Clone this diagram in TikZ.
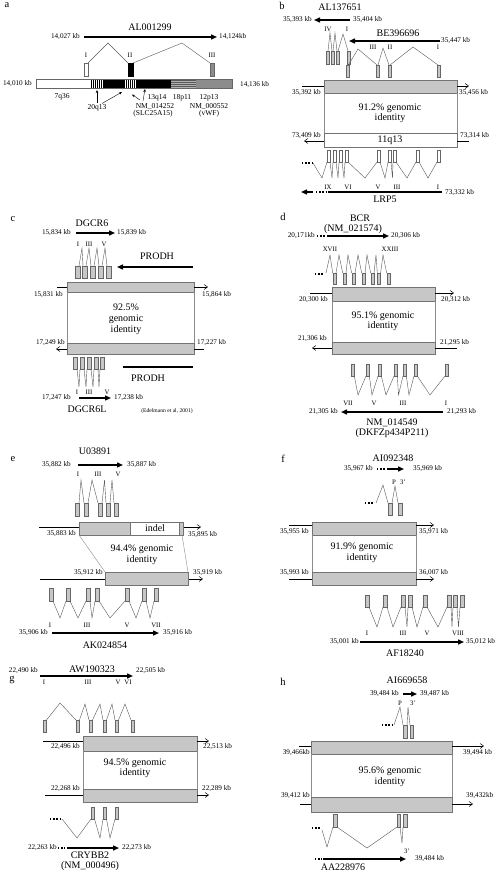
\documentclass[tikz,border=0pt]{standalone}
\usepackage{fontspec}
\setmainfont{Liberation Serif}
\usetikzlibrary{arrows.meta}
\begin{document}
\begin{tikzpicture}[x=1pt,y=-1pt,
 kb/.style={font=\fontsize{7.2}{7}\selectfont, inner sep=0pt},
 ch/.style={font=\fontsize{7.5}{7}\selectfont, inner sep=0pt},
 gn/.style={font=\fontsize{10}{10}\selectfont, inner sep=0pt},
 rn/.style={font=\fontsize{6.8}{6}\selectfont, inner sep=0pt},
 pl/.style={font=\fontsize{10.5}{11}\selectfont, inner sep=0pt},
 sm/.style={font=\fontsize{5.6}{6}\selectfont, inner sep=0pt},
 ex/.style={draw=black!60, fill=black!22, line width=0.4pt},
 wex/.style={draw=black!60, fill=white, line width=0.4pt},
 big/.style={draw=black!55, fill=black!22, line width=0.5pt},
 intr/.style={draw=black!65, line width=0.4pt},
 ident/.style={draw=black!45, line width=0.4pt},
 tarr/.style={line width=1.4pt, -{Triangle[length=6pt,width=5pt]}},
 tline/.style={line width=1.4pt},
 narr/.style={line width=0.5pt, -{Straight Barb[length=3.5pt,width=5pt]}},
 nline/.style={line width=0.5pt},
 dts/.style={line width=1.4pt, dash pattern=on 1.4pt off 1.8pt},
 pa/.style={line width=0.4pt, -{Stealth[length=3pt,width=2.5pt]}},
]
\useasboundingbox[fill=white] (0,0) rectangle (499,872);

%%%%%%%%%%%%%%%% panel a
\node[pl] (la) at (7,5) {a};
\node[gn] (ga) at (150,27) {AL001299};
\node[kb,anchor=east] (a1) at (80,37) {14,027 kb};
\node[kb,anchor=west] (a2) at (219,37) {14,124kb};
\draw[tarr] (84,37) -- (217,37);
\node[rn] (aI) at (86,55) {I};
\node[rn] (aII) at (130,55) {II};
\node[rn] (aIII) at (212,55) {III};
\draw[wex] (84,63) rectangle (88,76);
\draw[fill=black] (128,63) rectangle (133,76);
\draw[draw=black!60, fill=black!45] (210,63) rectangle (214,76);
\draw[intr] (88,63) -- (108,43) -- (128,63);
\draw[intr] (133,63) -- (182,43) -- (210,63);
% chromosome bar
\fill[white] (36,79) rectangle (90,88);
\fill[white] (90,79) rectangle (103,88);
\foreach \x in {91,93,...,102} \draw[line width=0.9pt] (\x,79) -- (\x,88);
\fill[black] (103,79) rectangle (125,88);
\fill[white] (125,79) rectangle (136,88);
\foreach \x in {126,128,...,135} \draw[line width=0.9pt] (\x,79) -- (\x,88);
\fill[black] (136,79) rectangle (171,88);
\fill[black!30] (171,79) rectangle (196,88);
\foreach \y in {80.5,82.5,...,87.5} \draw[black!65, line width=0.5pt] (171,\y) -- (196,\y);
\fill[black!45] (196,79) rectangle (232,88);
\draw[black!60, line width=0.5pt] (36,79) rectangle (232,88);
\node[kb,anchor=east] (a3) at (32,84) {14,010 kb};
\node[kb,anchor=west] (a4) at (240,85) {14,136 kb};
\node[ch] (c7) at (62,97) {7q36};
\node[ch] (c20) at (97,107.5) {20q13};
\node[ch] (c13) at (157,97.5) {13q14};
\node[ch] (nm1) at (155,106) {NM\_014252};
\node[ch] (slc) at (153,114) {(SLC25A15)};
\node[ch] (c18) at (182,97.5) {18p11};
\node[ch] (c12) at (209,97.5) {12p13};
\node[ch] (nm2) at (209,106) {NM\_000552};
\node[ch] (vwf) at (209,114) {(vWF)};
\draw[pa] (97,103) -- (97,90);
\draw[pa] (102,103.5) -- (122,92);
\draw[pa] (140,100) -- (132,94.5);
\draw[pa] (143,101) -- (145,89);

%%%%%%%%%%%%%%%% panel b
\node[pl] (lb) at (282,6) {b};
\node[gn] (gb1) at (340,7) {AL137651};
\draw[tarr] (350,20) -- (314,20);
\node[kb,anchor=east] (b1) at (312,20) {35,393 kb};
\node[kb,anchor=west] (b2) at (353,20) {35,404 kb};
\node[rn] (bIV) at (328,29) {IV};
\node[rn] (bI) at (347,29) {I};
\foreach \x in {326,331,336,347} \draw[ex] (\x,51) rectangle ++(3,13);
\draw[intr] (328,51) -- (330,33) -- (332,51);
\draw[intr] (333,51) -- (335,33) -- (337,51);
\draw[intr] (338,51) -- (343,34) -- (348,51);
\node[gn] (gb2) at (398,33) {BE396696};
\draw[tarr] (440,41) -- (349,41);
\node[kb,anchor=west] (b3) at (441,41) {35,447 kb};
\node[rn] (bIII2) at (373,47) {III};
\node[rn] (bII2) at (390,47) {II};
\node[rn] (bI2) at (438,47) {I};
\foreach \x in {346,376,388,437} \draw[ex] (\x,65) rectangle ++(3,12);
\draw[intr] (349,64) -- (358,49) -- (377,65);
\draw[intr] (378,65) -- (383,48) -- (389,65);
\draw[intr] (390,65) -- (413,47) -- (438,65);
\draw[big] (324,80) rectangle (457,93);
\draw[nline] (302,86) -- (324,86);
\draw[narr] (457,86) -- (469,86);
\node[kb,anchor=east] (b4) at (321,93) {35,392 kb};
\node[kb,anchor=west] (b5) at (459,93) {35,456 kb};
\draw[ident] (324,93) -- (324,133);
\draw[ident] (457,93) -- (457,133);
\node[gn] (bp1) at (390,108) {91.2\% genomic};
\node[gn] (bp2) at (390,118.5) {identity};
\draw[draw=black!55, fill=white, line width=0.5pt] (324,133) rectangle (457,147);
\node[gn] (b11) at (390,140) {11q13};
\draw[narr] (324,141) -- (304,141);
\draw[nline] (457,141) -- (469,141);
\node[kb,anchor=east] (b6) at (321,135.5) {73,409 kb};
\node[kb,anchor=west] (b7) at (460,135.5) {73,314 kb};
\foreach \x in {327,333,339,345,377,388,393,416,437} \draw[wex] (\x,150) rectangle ++(3.2,12);
\draw[dts] (302,163) -- (312,163);
\draw[intr] (313,163) -- (322,178) -- (327,162);
\draw[intr] (330,162) -- (332,178) -- (333,162);
\draw[intr] (336,162) -- (338,178) -- (339,162);
\draw[intr] (342,162) -- (344,178) -- (345,162);
\draw[intr] (348,162) -- (365,178) -- (377,162);
\draw[intr] (380,162) -- (385,178) -- (388,162);
\draw[intr] (391,162) -- (392.5,178) -- (393,162);
\draw[intr] (396,162) -- (407,178) -- (416,162);
\draw[intr] (419,162) -- (428,178) -- (437,162);
\node[rn] (bIX) at (328,187) {IX};
\node[rn] (bVI) at (348,187) {VI};
\node[rn] (bV) at (378,187) {V};
\node[rn] (bIII) at (397,187) {III};
\node[rn] (bI3) at (438,187) {I};
\draw[tline] (328,192) -- (442,192);
\draw[dts] (316,192) -- (326,192);
\draw[tarr] (313,192) -- (301,192);
\node[kb,anchor=west] (b8) at (445,193) {73,332 kb};
\node[gn] (lrp) at (385,199.5) {LRP5};

%%%%%%%%%%%%%%%% panel c
\node[pl] (lc) at (13,219) {c};
\node[gn] (gc1) at (92,223) {DGCR6};
\draw[tarr] (76,233) -- (115,233);
\node[kb,anchor=east] (c1) at (71,233) {15,834 kb};
\node[kb,anchor=west] (c2) at (117,233) {15,839 kb};
\node[rn] (cI) at (78,244) {I};
\node[rn] (cIII) at (89,244) {III};
\node[rn] (cV) at (104,244) {V};
\foreach \x in {75,82,90,98,106} \draw[ex] (\x,266) rectangle ++(5,12);
\draw[intr] (79,266) -- (82,248) -- (83,266);
\draw[intr] (86,266) -- (89,248) -- (91,266);
\draw[intr] (94,266) -- (97,248) -- (99,266);
\draw[intr] (102,266) -- (105,248) -- (107,266);
\node[gn] (prodh1) at (157,256) {PRODH};
\draw[tarr] (193,267) -- (117,267);
\draw[big] (67,282) rectangle (194,292);
\draw[nline] (57,287) -- (67,287);
\draw[narr] (194,287) -- (208,287);
\node[kb,anchor=east] (c3) at (63,295) {15,831 kb};
\node[kb,anchor=west] (c4) at (202,295) {15,864 kb};
\draw[ident] (67,292) -- (67,343);
\draw[ident] (194,292) -- (194,343);
\node[gn] (cp1) at (126,307) {92.5\%};
\node[gn] (cp2) at (126,319) {genomic};
\node[gn] (cp3) at (126,330) {identity};
\draw[big] (67,343) rectangle (194,354);
\draw[narr] (67,349) -- (56,349);
\draw[nline] (194,349) -- (204,349);
\node[kb,anchor=east] (c5) at (65,343) {17,249 kb};
\node[kb,anchor=west] (c6) at (197,343) {17,227 kb};
\foreach \x in {73,80,87,94,100} \draw[ex] (\x,357) rectangle ++(4,12);
\draw[intr] (77,369) -- (79,387) -- (80,369);
\draw[intr] (84,369) -- (86,387) -- (87,369);
\draw[intr] (91,369) -- (93,387) -- (94,369);
\draw[intr] (98,369) -- (99,387) -- (100,369);
\draw[tline] (123,367) -- (193,367);
\node[gn] (prodh2) at (148,378) {PRODH};
\node[rn] (cI2) at (77,392) {I};
\node[rn] (cIII2) at (89,392) {III};
\node[rn] (cV2) at (107,392) {V};
\draw[tarr] (79,398) -- (111,398);
\node[kb,anchor=east] (c7b) at (71,398) {17,247 kb};
\node[kb,anchor=west] (c8) at (114,398) {17,238 kb};
\node[gn] (gc2) at (87,409.5) {DGCR6L};
\node[sm] (edel) at (167,411) {(Edelmann et al, 2001)};

%%%%%%%%%%%%%%%% panel d
\node[pl] (ld) at (283,217) {d};
\node[gn] (gd1) at (360,218) {BCR};
\node[gn] (gd2) at (353,229) {(NM\_021574)};
\node[kb,anchor=east] (d1) at (315,236) {20,171kb};
\draw[dts] (317,236) -- (326,236);
\draw[tarr] (327,236) -- (389,236);
\node[kb,anchor=west] (d2) at (391,236) {20,306 kb};
\node[rn] (dXVII) at (330,249) {XVII};
\node[rn] (dXXIII) at (390,249) {XXIII};
\foreach \x in {332.7,342.7,351.7,361.7,370.7,377.3,386.7} \draw[ex] (\x,273) rectangle ++(3.3,11);
\draw[dts] (315,274) -- (324,274);
\draw[intr] (326,273) -- (330,255) -- (332.7,273);
\draw[intr] (336,273) -- (339,255) -- (342.7,273);
\draw[intr] (346,273) -- (348,255) -- (351.7,273);
\draw[intr] (355,273) -- (358,255) -- (361.7,273);
\draw[intr] (365,273) -- (367,255) -- (370.7,273);
\draw[intr] (374,273) -- (376,255) -- (377.3,273);
\draw[intr] (380.6,273) -- (383,255) -- (386.7,273);
\draw[big] (332,287) rectangle (435,301);
\draw[nline] (310,293) -- (332,293);
\draw[narr] (435,293) -- (454,293);
\node[kb,anchor=east] (d3) at (328,300) {20,300 kb};
\node[kb,anchor=west] (d4) at (441,300) {20,312 kb};
\draw[ident] (332,301) -- (332,342);
\draw[ident] (435,301) -- (435,342);
\node[gn] (dp1) at (383,316) {95.1\% genomic};
\node[gn] (dp2) at (383,326.5) {identity};
\draw[big] (332,342) rectangle (435,354);
\draw[narr] (332,348) -- (312,348);
\draw[nline] (435,348) -- (457,348);
\node[kb,anchor=east] (d5) at (327,339) {21,306 kb};
\node[kb,anchor=west] (d6) at (440,343) {21,295 kb};
\foreach \x in {351,366,378,394,403,414,445} \draw[ex] (\x,364) rectangle ++(3.3,12);
\draw[intr] (354.3,376) -- (358,395) -- (366,376);
\draw[intr] (369.3,376) -- (372,395) -- (378,376);
\draw[intr] (381.3,376) -- (386,395) -- (394,376);
\draw[intr] (397.3,376) -- (398.5,395) -- (403,376);
\draw[intr] (406.3,376) -- (409,395) -- (414,376);
\draw[intr] (417.3,376) -- (430,395) -- (445,376);
\node[rn] (dVII) at (348,403) {VII};
\node[rn] (dV) at (374,403) {V};
\node[rn] (dIII) at (403,403) {III};
\node[rn] (dI) at (446,403) {I};
\draw[tarr] (443,412) -- (341,412);
\node[kb,anchor=east] (d7) at (338,412) {21,305 kb};
\node[kb,anchor=west] (d8) at (447,412) {21,293 kb};
\node[gn] (gd3) at (392,423) {NM\_014549};
\node[gn] (gd4) at (392,433.5) {(DKFZp434P211)};

%%%%%%%%%%%%%%%% panel e
\node[pl] (le) at (13,459) {e};
\node[gn] (ge1) at (95,451) {U03891};
\draw[tarr] (78,465) -- (123,465);
\node[kb,anchor=east] (e1) at (71,465) {35,882 kb};
\node[kb,anchor=west] (e2) at (127,465) {35,887 kb};
\node[rn] (eI) at (78,474) {I};
\node[rn] (eIII) at (98,474) {III};
\node[rn] (eV) at (118,474) {V};
\foreach \x in {75,84,98,106,114} \draw[ex] (\x,503) rectangle ++(4.3,13);
\draw[intr] (79,503) -- (81,480) -- (84,503);
\draw[intr] (88,503) -- (92,480) -- (98,503);
\draw[intr] (102,503) -- (104.5,480) -- (106,503);
\draw[intr] (110,503) -- (112,480) -- (114,503);
\draw[nline] (39,527) -- (79,527);
\draw[narr] (183,527) -- (201,527);
\fill[black!22] (79,522) rectangle (130,535);
\fill[white] (130,522) rectangle (179,535);
\fill[black!22] (179,522) rectangle (183,535);
\draw[black!55, line width=0.5pt] (79,522) rectangle (183,535);
\draw[black!55, line width=0.5pt] (130,522) -- (130,535) (179,522) -- (179,535);
\node[gn] (indel) at (155,528.5) {indel};
\node[kb,anchor=east] (e3) at (76,534) {35,883 kb};
\node[kb,anchor=west] (e4) at (188,535) {35,895 kb};
\draw[ident] (79,535) -- (105,572);
\draw[ident] (182,535) -- (188,572);
\node[gn] (ep1) at (142,549) {94.4\% genomic};
\node[gn] (ep2) at (142,560) {identity};
\draw[nline] (40,579) -- (105,579);
\draw[narr] (188,579) -- (203,579);
\draw[big] (105,572) rectangle (188,585);
\node[kb,anchor=east] (e5) at (103,573) {35,912 kb};
\node[kb,anchor=west] (e6) at (193,573) {35,919 kb};
\foreach \x in {49,66,86,95,125,142,154} \draw[ex] (\x,588) rectangle ++(4,13);
\draw[intr] (53,601) -- (60,618) -- (66,601);
\draw[intr] (70,601) -- (78,618) -- (86,601);
\draw[intr] (90,601) -- (92,618) -- (95,601);
\draw[intr] (99,601) -- (110,618) -- (125,601);
\draw[intr] (129,601) -- (136,618) -- (142,601);
\draw[intr] (146,601) -- (150,618) -- (154,601);
\node[rn] (eI2) at (50,625) {I};
\node[rn] (eIII2) at (87,625) {III};
\node[rn] (eV2) at (127,625) {V};
\node[rn] (eVII) at (156,625) {VII};
\draw[tarr] (52,633) -- (159,633);
\node[kb,anchor=east] (e7) at (48,633) {35,906 kb};
\node[kb,anchor=west] (e8) at (163,633) {35,916 kb};
\node[gn] (ge2) at (105,645) {AK024854};

%%%%%%%%%%%%%%%% panel f
\node[pl] (lf) at (283,459) {f};
\node[gn] (gf1) at (393,458) {AI092348};
\node[kb,anchor=east] (f1) at (373,469) {35,967 kb};
\draw[dts] (377,469) -- (386,469);
\draw[tarr] (387,469) -- (404,469);
\node[kb,anchor=west] (f2) at (413,469) {35,969 kb};
\node[rn] (fP) at (394,482) {P};
\node[rn] (f3p) at (403,482) {3'};
\draw[dts] (365,503) -- (374,503);
\draw[intr] (376,503) -- (383,485) -- (388,503);
\draw[intr] (392,503) -- (395,486) -- (398,503);
\foreach \x in {388,398} \draw[ex] (\x,503) rectangle ++(4,12);
\draw[big] (312,522) rectangle (416,535);
\draw[nline] (289,525) -- (312,525);
\draw[narr] (416,525) -- (434,525);
\node[kb,anchor=east] (f3) at (309,532) {35,955 kb};
\node[kb,anchor=west] (f4) at (419,532) {35,971 kb};
\draw[ident] (312,535) -- (312,572);
\draw[ident] (416,535) -- (416,572);
\node[gn] (fp1) at (362,547) {91.9\% genomic};
\node[gn] (fp2) at (362,558) {identity};
\draw[big] (312,572) rectangle (416,585);
\draw[nline] (289,579) -- (312,579);
\draw[narr] (416,579) -- (434,579);
\node[kb,anchor=east] (f5) at (309,573) {35,993 kb};
\node[kb,anchor=west] (f6) at (419,573) {36,007 kb};
\foreach \x in {365,383,401,408,423,447,453,460} \draw[ex] (\x,595) rectangle ++(4,12);
\draw[intr] (369,607) -- (377,627) -- (383,607);
\draw[intr] (387,607) -- (393,627) -- (401,607);
\draw[intr] (405,607) -- (407,627) -- (408,607);
\draw[intr] (412,607) -- (417,627) -- (423,607);
\draw[intr] (427,607) -- (438,627) -- (447,607);
\draw[intr] (451,607) -- (452,627) -- (453,607);
\draw[intr] (457,607) -- (458.5,627) -- (460,607);
\node[rn] (fI) at (367,633) {I};
\node[rn] (fIII) at (403,633) {III};
\node[rn] (fV) at (427,633) {V};
\node[rn] (fVIII) at (458,633) {VIII};
\draw[tarr] (360,642) -- (464,642);
\node[kb,anchor=east] (f7) at (359,642) {35,001 kb};
\node[kb,anchor=west] (f8) at (466,642) {35,012 kb};
\node[gn] (gf2) at (405,653) {AF18240};

%%%%%%%%%%%%%%%% panel g
\node[pl] (lg) at (12,680) {g};
\node[gn] (gg1) at (92,669.5) {AW190323};
\draw[tarr] (40,676) -- (133,676);
\node[kb,anchor=east] (g1) at (38,671) {22,490 kb};
\node[kb,anchor=west] (g2) at (136,671) {22,505 kb};
\node[rn] (gI) at (44,682.5) {I};
\node[rn] (gIII) at (88,682.5) {III};
\node[rn] (gV) at (118,682.5) {V};
\node[rn] (gVI) at (128,682.5) {VI};
\foreach \x in {43,76,89,103,115,131} \draw[ex] (\x,720) rectangle ++(3.5,12);
\draw[intr] (46.5,720) -- (60,703) -- (76,720);
\draw[intr] (79.5,720) -- (85,704) -- (89,720);
\draw[intr] (92.5,720) -- (100,704) -- (103,720);
\draw[intr] (106.5,720) -- (112,704) -- (115,720);
\draw[intr] (118.5,720) -- (125,704) -- (131,720);
\draw[big] (83,736) rectangle (197,751);
\draw[nline] (43,741) -- (83,741);
\draw[narr] (197,741) -- (209,741);
\node[kb,anchor=east] (g3) at (80,747) {22,496 kb};
\node[kb,anchor=west] (g4) at (203,747) {22,513 kb};
\draw[ident] (83,751) -- (83,789);
\draw[ident] (197,751) -- (197,789);
\node[gn] (gp1) at (135,763) {94.5\% genomic};
\node[gn] (gp2) at (135,773.5) {identity};
\draw[big] (83,789) rectangle (197,802);
\draw[nline] (45,795) -- (83,795);
\draw[narr] (197,795) -- (209,795);
\node[kb,anchor=east] (g5) at (80,789) {22,268 kb};
\node[kb,anchor=west] (g6) at (202,789) {22,289 kb};
\foreach \x in {91,103,115} \draw[ex] (\x,807) rectangle ++(3.5,12);
\draw[dts] (50,819) -- (60,819);
\draw[intr] (62,819) -- (77,838) -- (91,819);
\draw[intr] (94.5,819) -- (100,838) -- (103,819);
\draw[intr] (106.5,819) -- (110,838) -- (115,819);
\node[kb,anchor=east] (g7) at (57,848) {22,263 kb};
\draw[dts] (58,848) -- (65,848);
\draw[tarr] (67,848) -- (119,848);
\node[kb,anchor=west] (g8) at (122,848) {22,273 kb};
\node[gn] (gg2) at (90,855.5) {CRYBB2};
\node[gn] (gg3) at (90,866) {(NM\_000496)};

%%%%%%%%%%%%%%%% panel h
\node[pl] (lh) at (283,682) {h};
\node[gn] (gh1) at (407,680) {AI669658};
\node[kb,anchor=east] (h1) at (399,694) {39,484 kb};
\draw[tarr] (403,694) -- (417,694);
\node[kb,anchor=west] (h2) at (420,694) {39,487 kb};
\node[rn] (hP) at (400,703) {P};
\node[rn] (h3p) at (413,703) {3'};
\draw[dts] (382,725) -- (392,725);
\draw[intr] (394,725) -- (400,707) -- (403,725);
\draw[intr] (407,725) -- (408,707) -- (410,725);
\draw[ex] (403,725) rectangle (407,738);
\draw[ex] (410,725) rectangle (413,738);
\draw[big] (311,741) rectangle (452,754);
\draw[nline] (299,746) -- (311,746);
\draw[narr] (452,746) -- (484,746);
\node[kb,anchor=east] (h3) at (310,753) {39,466kb};
\node[kb,anchor=west] (h4) at (463,753) {39,494 kb};
\draw[ident] (311,754) -- (311,797);
\draw[ident] (452,754) -- (452,797);
\node[gn] (hp1) at (390,771) {95.6\% genomic};
\node[gn] (hp2) at (390,782) {identity};
\draw[big] (311,797) rectangle (452,812);
\draw[nline] (300,804) -- (311,804);
\draw[narr] (452,804) -- (473,804);
\node[kb,anchor=east] (h5) at (310,796) {39,412 kb};
\node[kb,anchor=west] (h6) at (466,796) {39,432kb};
\draw[ex] (333,814) rectangle (337,827);
\draw[ex] (397,814) rectangle (400,827);
\draw[ex] (403,814) rectangle (407,827);
\draw[dts] (312,828) -- (321,828);
\draw[intr] (322,830) -- (327,847) -- (333,827);
\draw[intr] (337,827) -- (367,848) -- (397,827);
\draw[intr] (400,827) -- (402,843) -- (403,827);
\node[rn] (h3p2) at (407,851) {3'};
\draw[dts] (315,859) -- (322,859);
\draw[tarr] (323,859) -- (406,859);
\node[kb,anchor=west] (h7) at (415,859) {39,484 kb};
\node[gn] (gh2) at (343,867) {AA228976};
\end{tikzpicture}
\end{document}
